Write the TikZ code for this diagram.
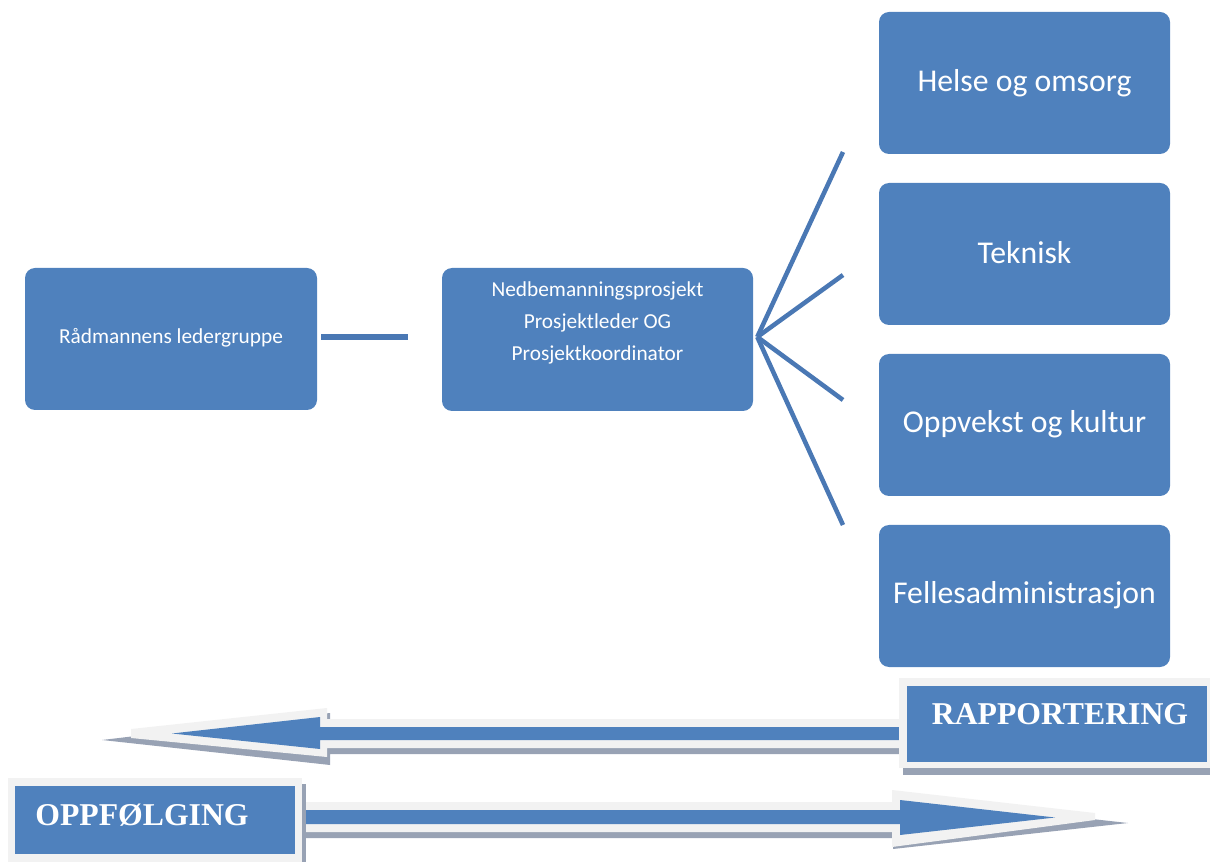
\documentclass[tikz,border=0pt]{standalone}
\usepackage{fontspec}
\setmainfont{Carlito}
\newfontfamily\tnr{Liberation Serif}
\definecolor{boxblue}{RGB}{79,129,189}
\definecolor{linkblue}{RGB}{74,120,180}
\definecolor{rim}{RGB}{242,242,242}
\definecolor{shade}{RGB}{152,162,180}
\begin{document}
\begin{tikzpicture}[x=0.75pt,y=-0.75pt,
  bluebox/.style={fill=boxblue,draw=none,rounded corners=7.5pt,inner sep=0pt},
  smalltxt/.style={text=white,font=\fontsize{16}{24}\selectfont,align=center},
  bigtxt/.style={text=white,font=\fontsize{23.8}{28}\selectfont},
  conn/.style={draw=linkblue,line width=3.4pt},
  conn2/.style={draw=linkblue,line width=4.4pt},
  rimfill/.style={fill=rim,draw=none},
  shadefill/.style={fill=shade,draw=none},
  plainblue/.style={fill=boxblue,draw=none},
  headtxt/.style={text=white,font=\tnr\bfseries\fontsize{23.8}{28}\selectfont}
]
\useasboundingbox (0,0) rectangle (1210,862);

% upper boxes
\node[bluebox,minimum width=219pt,minimum height=106.5pt] (rad) at (171,339) {};
\node[smalltxt] (radtxt) at (171,338) {Rådmannens ledergruppe};
\node[bluebox,minimum width=233.25pt,minimum height=107.25pt] (ned) at (597.5,339.5) {};
\node[smalltxt] (nedtxt) at (597.5,323) {Nedbemanningsprosjekt\\Prosjektleder OG\\Prosjektkoordinator};

\node[bluebox,minimum width=218.25pt,minimum height=106.5pt] (helse) at (1024.5,83) {};
\node[bigtxt] (helsetxt) at (1024.5,83) {Helse og omsorg};
\node[bluebox,minimum width=218.25pt,minimum height=106.5pt] (tek) at (1024.5,254) {};
\node[bigtxt] (tektxt) at (1024.5,253) {Teknisk};
\node[bluebox,minimum width=218.25pt,minimum height=106.5pt] (opp) at (1024.5,425) {};
\node[bigtxt] (opptxt) at (1024.5,424) {Oppvekst og kultur};
\node[bluebox,minimum width=218.25pt,minimum height=106.5pt] (fel) at (1024.5,596) {};
\node[bigtxt] (feltxt) at (1024.5,595) {Fellesadministrasjon};

% connectors
\coordinate (lstart) at ([xshift=3pt,yshift=1.5pt]rad.east);
\draw[conn2,shorten >=25.5pt] (lstart) -- (lstart -| ned.west);
\coordinate (f1) at (843,152);
\coordinate (f2) at (843,275);
\coordinate (f3) at (843,400);
\coordinate (f4) at (843,525);
\coordinate (hub) at ([xshift=3pt,yshift=1.9pt]ned.east);
\draw[conn] (hub) -- (f1);
\draw[conn] (hub) -- (f2);
\draw[conn] (hub) -- (f3);
\draw[conn] (hub) -- (f4);

% top arrow (pointing left)
\fill[shadefill] (102,740) -- (330,713) -- (330,726) -- (905,726) -- (905,754) -- (330,754) -- (330,765) -- cycle;
\fill[rimfill] (131,729) -- (327,708) -- (327,719) -- (905,719) -- (905,748) -- (327,748) -- (327,757) -- (131,738) -- cycle;
\fill[plainblue] (172,733.5) -- (320,717) -- (320,727) -- (900,727) -- (900,740) -- (320,740) -- (320,749) -- cycle;
% RAPPORTERING box
\fill[shadefill] (903,768) rectangle (1210,775);
\node[rimfill,minimum width=233.25pt,minimum height=67.5pt,inner sep=0pt] (rap) at (1054.5,723) {};
\fill[plainblue] (907,686) rectangle (1207,762);
\node[headtxt] (raptxt) at (1060,714) {RAPPORTERING};

% bottom arrow (pointing right)
\fill[shadefill] (303,808) -- (893,808) -- (893,797) -- (1128,823) -- (893,849) -- (893,838) -- (303,838) -- cycle;
\fill[rimfill] (303,802) -- (892,802) -- (892,790) -- (1095,813) -- (1095,820) -- (892,847) -- (892,832) -- (303,832) -- cycle;
\fill[plainblue] (303,810) -- (900,810) -- (900,800) -- (1055,817.5) -- (900,835) -- (900,824) -- (303,824) -- cycle;
% OPPFOLGING box
\fill[shadefill] (302,784) rectangle (306,862);
\node[rimfill,minimum width=220.5pt,minimum height=63pt,inner sep=0pt] (oppf) at (155,820) {};
\fill[plainblue] (15,786) rectangle (295,854);
\node[headtxt] (oppftxt) at (142,815) {OPPFØLGING};
\end{tikzpicture}
\end{document}
